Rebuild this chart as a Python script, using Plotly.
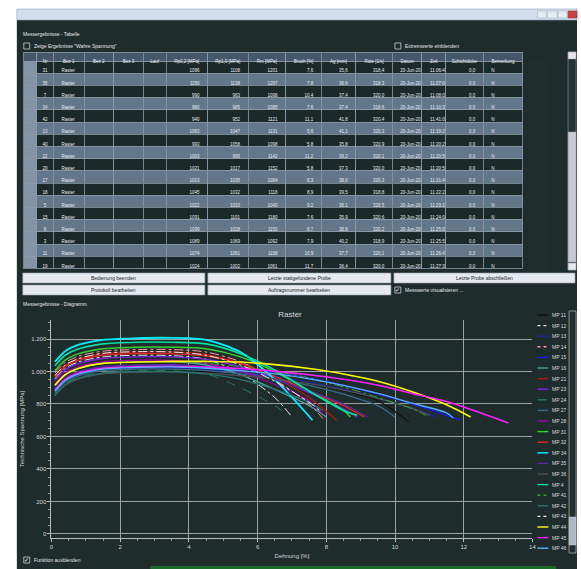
import plotly.graph_objects as go

W, H = 581, 569
FONT = "Liberation Sans, Arial, sans-serif"

# ---------------- chart data ----------------
strain_grid = [0.1, 0.4, 0.8, 1.5, 2.5, 3.5, 4.5, 5.5, 6.5, 7.5, 8.5, 9.5, 10.5, 11.5, 12.5]

series_names = ["MP 11", "MP 12", "MP 13", "MP 14", "MP 15", "MP 16", "MP 21", "MP 23",
                "MP 24", "MP 27", "MP 28", "MP 31", "MP 32", "MP 34", "MP 35", "MP 36",
                "MP 4", "MP 41", "MP 42", "MP 43", "MP 44", "MP 45", "MP 46"]

series_stress = [
    [855, 920, 960, 990, 1000, 1003, 1000, 985, 960, 925, 880, 820],
    [955, 1020, 1060, 1090, 1100, 1098, 1075, 990, 840],
    [875, 940, 980, 1010, 1020, 1022, 1012, 995, 970, 935, 890, 835, 775],
    [990, 1055, 1095, 1125, 1135, 1135, 1120, 1060, 950, 800],
    [885, 950, 990, 1020, 1030, 1035, 1030, 1015, 995, 960, 915, 860, 800, 730],
    [915, 980, 1020, 1050, 1060, 1060, 1040, 980, 890, 790],
    [975, 1040, 1080, 1110, 1120, 1120, 1105, 1050, 960, 840],
    [945, 1010, 1050, 1080, 1090, 1090, 1075, 1030, 960, 870, 770],
    [860, 925, 965, 995, 1005, 1005, 985, 900, 790],
    [870, 935, 975, 1005, 1015, 1015, 1005, 985, 955, 915, 860, 790],
    [925, 990, 1030, 1060, 1070, 1068, 1050, 1000, 920, 820],
    [1005, 1070, 1110, 1140, 1150, 1150, 1140, 1090, 1000, 880, 760],
    [965, 1030, 1070, 1100, 1110, 1108, 1095, 1050, 970, 880, 790],
    [1060, 1125, 1165, 1195, 1205, 1207, 1195, 1120, 950],
    [895, 960, 1000, 1030, 1040, 1042, 1030, 1000, 950, 880, 800],
    [850, 915, 955, 985, 995, 998, 990, 975, 955, 925, 885, 835, 775],
    [1035, 1100, 1140, 1170, 1180, 1180, 1170, 1110, 1010, 880, 760],
    [915, 980, 1020, 1050, 1060, 1060, 1050, 1030, 1000, 960, 905, 840, 770],
    [855, 920, 960, 990, 1000, 1000, 985, 950, 890, 810],
    [975, 1040, 1080, 1112, 1122, 1120, 1100, 1040, 940, 810],
    [915, 980, 1020, 1050, 1058, 1062, 1062, 1058, 1042, 1018, 985, 940, 875, 795],
    [885, 950, 990, 1020, 1030, 1032, 1028, 1018, 1002, 980, 952, 915, 865, 815, 745],
    [880, 945, 985, 1015, 1025, 1028, 1020, 1005, 985, 955, 915, 865, 805, 745],
]
series_end_strain = [10.4, 7.0, 11.2, 7.9, 11.9, 8.0, 8.3, 8.9, 6.7, 10.0, 7.9, 8.7,
                     9.1, 7.6, 9.2, 11.0, 8.9, 10.9, 7.9, 7.8, 12.2, 13.3, 11.7]
series_end_stress = [690, 720, 720, 710, 700, 720, 700, 720, 760, 720, 740, 720,
                     720, 700, 720, 730, 730, 730, 760, 760, 720, 683, 713]

# styles
series_colors = ["#101010", "#e8e8e8", "#1a2a9a", "#ff9a9a", "#1818ff", "#4aa0a0", "#b01818",
                 "#7a28e0", "#2a7a4a", "#3a6a8a", "#a000a0", "#38d038", "#e02828", "#00f0ff",
                 "#5a2a9a", "#505050", "#00e0a0", "#3c9a3c", "#2a7070", "#f0f0f0", "#ffff00",
                 "#ff20ff", "#5ab0ff"]
series_dash = ["solid", "dashdot", "solid", "dashdot", "solid", "solid", "solid", "solid",
               "dash", "solid", "solid", "solid", "solid", "solid", "solid", "solid",
               "solid", "dashdot", "solid", "dashdot", "solid", "solid", "solid"]
series_width = [1.3, 1.0, 1.3, 1.0, 1.3, 1.3, 1.3, 1.3, 1.0, 1.3, 1.3, 1.5, 1.3, 1.8,
                1.3, 1.3, 1.6, 1.0, 1.3, 1.0, 1.6, 1.6, 1.3]

x_ticks = [0, 2, 4, 6, 8, 10, 12, 14]
y_ticks = [0, 200, 400, 600, 800, 1000, 1200]

# ---------------- table data ----------------
table_headers = ["", "Nr", "Bez 1", "Bez 2", "Bez 3", "Lauf", "Rp0,2 [MPa]", "Rp1,0 [MPa]",
                 "Rm [MPa]", "Bruch [%]", "Ag [mm]", "Rate [1/s]", "Datum", "Zeit",
                 "Schichtdicke", "Bemerkung"]
table_nr = ["31", "35", "7", "34", "42", "13", "40", "22", "20", "17", "18", "5", "15", "8", "3", "11", "19"]
table_bez1 = ["Raster"] * 17
table_empty = [""] * 17
table_rp02 = ["1096", "1150", "990", "980", "940", "1063", "993", "1003", "1021", "1013", "1045",
              "1022", "1091", "1039", "1089", "1074", "1024"]
table_rp10 = ["1108", "1138", "963", "985", "952", "1047", "1058", "995", "1017", "1035", "1032",
              "1010", "1101", "1028", "1069", "1061", "1002"]
table_rm = ["1201", "1207", "1098", "1085", "1121", "1131", "1098", "1142", "1152", "1064", "1118",
            "1040", "1180", "1150", "1092", "1108", "1061"]
table_bruch = ["7,6", "7,8", "10,4", "7,6", "11,1", "5,6", "5,8", "11,2", "5,8", "8,3", "8,9",
               "9,2", "7,6", "8,7", "7,9", "10,9", "11,7"]
table_ag = ["35,6", "36,6", "37,4", "37,4", "41,8", "41,1", "35,8", "39,2", "37,3", "38,6", "39,5",
            "36,1", "35,9", "38,8", "40,2", "37,7", "36,4"]
table_rate = ["318,4", "318,3", "320,0", "318,6", "320,4", "320,3", "320,9", "320,1", "320,0",
              "320,3", "318,8", "320,5", "320,6", "320,2", "318,9", "320,1", "320,0"]
table_datum = ["20-Jun-2012"] * 17
table_zeit = ["11:06:41", "11:07:01", "11:08:01", "11:10:31", "11:41:09", "11:19:25", "11:20:25",
              "11:20:50", "11:20:58", "11:21:44", "11:22:21", "11:23:15", "11:24:06", "11:25:02",
              "11:25:58", "11:26:47", "11:27:39"]
table_schicht = ["0,0"] * 17
table_bem = ["N"] * 17

# ---------------- helpers (layout in pixels) ----------------
def fx(v):
    return v / W


def fy(v):
    return 1 - v / H


shapes = []
annotations = []


def rect(x0, y0, x1, y1, fill, line=None, lw=0):
    shapes.append(dict(type="rect", xref="paper", yref="paper", x0=fx(x0), x1=fx(x1),
                       y0=fy(y1), y1=fy(y0), fillcolor=fill,
                       line=dict(color=line or fill, width=lw), layer="below"))


def seg(x0, y0, x1, y1, color, width=1, dash="solid"):
    shapes.append(dict(type="line", xref="paper", yref="paper", x0=fx(x0), x1=fx(x1),
                       y0=fy(y0), y1=fy(y1), line=dict(color=color, width=width, dash=dash),
                       layer="below"))


def text(x, y, t, size=5.5, color="#e4e8ea", anchor="left"):
    annotations.append(dict(xref="paper", yref="paper", x=fx(x), y=fy(y), text=t,
                            showarrow=False, xanchor=anchor, yanchor="middle",
                            font=dict(size=size, color=color, family=FONT)))


def checkbox(x, y, checked=False):
    rect(x, y - 3, x + 6, y + 3, "#1f2c2c", "#c8d0d4", 0.8)
    if checked:
        text(x + 3, y, "✓", size=6, color="#ffffff", anchor="center")


BG = "#1f2c2c"

# window chrome
rect(15, 20, 581, 569, BG)
rect(15, 9, 581, 20, "#d2deec", "#8ea4bc", 0.6)
rect(541, 11, 550, 18, "#e4ecf4", "#9aaabb", 0.5)
rect(551, 11, 561, 18, "#e4ecf4", "#9aaabb", 0.5)
rect(562, 11, 571, 18, "#e4ecf4", "#9aaabb", 0.5)
rect(572, 11, 581, 18, "#c94040", "#a02020", 0.5)

text(19, 34, "Messergebnisse - Tabelle", size=5)
checkbox(22, 46)
text(30, 46, "Zeige Ergebnisse \"Wahre Spannung\"", size=5)
checkbox(397, 46)
text(405, 46, "Extremwerte einblenden", size=5)

# table scrollbar
rect(572, 52, 580, 270, "#243232", "#8a9aa2", 0.6)
rect(572, 52, 580, 59, "#e4e8ec", "#9aa4ac", 0.5)
rect(572, 132, 580, 262, "#c6ccd2", "#9aa4ac", 0.5)
rect(572, 263, 580, 270, "#e4e8ec", "#9aa4ac", 0.5)

# buttons
btn_fill, btn_line, btn_txt = "#e6e9ee", "#9aa4ae", "#202428"
for (x0, y0, x1, y1, label) in [
        (21, 273, 205, 283, "Bedienung beenden"),
        (208, 273, 393, 283, "Letzte stattgefundene Probe"),
        (396, 273, 579, 283, "Letzte Probe abschließen"),
        (21, 285, 205, 295, "Protokoll bearbeiten"),
        (208, 285, 393, 295, "Auftragsnummer bearbeiten")]:
    rect(x0, y0, x1, y1, btn_fill, btn_line, 0.6)
    text((x0 + x1) / 2, (y0 + y1) / 2, label, size=5, color=btn_txt, anchor="center")
checkbox(397, 290, checked=True)
text(405, 290, "Messwerte visualisieren ...", size=5)

text(19, 304, "Messergebnisse - Diagramm", size=5)
checkbox(22, 560, checked=True)
text(30, 560, "Funktion ausblenden", size=5)
rect(150, 566, 560, 569, "#1a6a2c")

# legend (manual, compact) + scrollbar
for i, (nm, col, dsh) in enumerate(zip(series_names, series_colors, series_dash)):
    yy = 315 + i * 10.6
    seg(541, yy, 552, yy, col, 1.4, "dot" if dsh == "dashdot" else dsh)
    text(554, yy, nm, size=5, color="#d8dcdc")
rect(573, 311, 580, 553, "#233030", "#b8c0c6", 0.7)
rect(573, 517, 580, 545, "#aeb8c4", "#c8d0d8", 0.5)

# ---------------- figure ----------------
fig = go.Figure()

for nm, col, dsh, lw, st, ex, ey in zip(series_names, series_colors, series_dash, series_width,
                                         series_stress, series_end_strain, series_end_stress):
    fig.add_trace(go.Scatter(
        x=strain_grid[:len(st)] + [ex], y=st + [ey], mode="lines", name=nm,
        line=dict(color=col, dash=dsh, width=lw, shape="spline", smoothing=0.8),
        showlegend=False, hoverinfo="skip"))

dark_row, light_row = "#1c2929", "#64768a"
row_fill = [dark_row if r % 2 == 0 else light_row for r in range(len(table_nr))]
hdr_fill = "#8594a4"
cell_values = [table_empty, table_nr, table_bez1, table_empty, table_empty, table_empty,
               table_rp02, table_rp10, table_rm, table_bruch, table_ag, table_rate,
               table_datum, table_zeit, table_schicht, table_bem]
fills = [[hdr_fill] * len(table_nr)] + [row_fill] * (len(cell_values) - 1)
aligns = ["center", "center", "left", "left", "left", "left", "right", "right", "right",
          "right", "right", "right", "left", "left", "right", "left"]
header_labels = [h.replace(" ", "\u00a0") for h in table_headers]

fig.add_trace(go.Table(
    domain=dict(x=[22 / W, 527 / W], y=[fy(272), fy(52)]),
    columnwidth=[13, 17, 31, 30, 30, 23, 42, 41, 38, 36, 35, 37, 30, 24, 38, 40],
    header=dict(values=header_labels, fill_color="#46576a",
                line=dict(color="#8b98a8", width=0.8),
                font=dict(size=4.5, color="#e8ecf0", family=FONT), height=9, align="center"),
    cells=dict(values=cell_values, fill_color=fills,
               line=dict(color="#8b98a8", width=0.8),
               font=dict(size=4.5, color="#e8ecf0", family=FONT), height=12.2, align=aligns),
))

grid_c = "#9aa3a3"
fig.update_layout(
    width=W, height=H, margin=dict(l=0, r=0, t=0, b=0),
    paper_bgcolor="#ffffff", plot_bgcolor=BG, separators=",.",
    font=dict(family=FONT, color="#d0d4d4", size=6),
    showlegend=False,
    title=dict(text="Raster", x=290 / W, y=fy(314), xanchor="center", yanchor="middle",
               font=dict(size=8, color="#d4d8d8", family=FONT)),
    xaxis=dict(domain=[50 / W, 536 / W], range=[0, 14], tickvals=x_ticks,
               showgrid=True, gridcolor=grid_c, gridwidth=1, zeroline=False,
               showline=True, linecolor="#b4bcbc", linewidth=1,
               ticks="outside", ticklen=3, tickcolor="#b4bcbc",
               minor=dict(dtick=0.5, ticks="outside", ticklen=2, tickcolor="#8a9494", showgrid=False),
               tickfont=dict(size=6, color="#d0d4d4"),
               title=dict(text="Dehnung [%]", font=dict(size=6, color="#d0d4d4"), standoff=4)),
    yaxis=dict(domain=[fy(538), fy(320)], range=[-25, 1317], tickvals=y_ticks,
               separatethousands=True, tickformat=",d",
               showgrid=True, gridcolor=grid_c, gridwidth=1, zeroline=False,
               showline=True, linecolor="#b4bcbc", linewidth=1,
               ticks="outside", ticklen=3, tickcolor="#b4bcbc",
               minor=dict(dtick=50, ticks="outside", ticklen=2, tickcolor="#8a9494", showgrid=False),
               tickfont=dict(size=6, color="#d0d4d4"),
               title=dict(text="Technische Spannung [MPa]", font=dict(size=6, color="#d0d4d4"),
                          standoff=6)),
    shapes=shapes, annotations=annotations,
)

fig.write_html("out.html", config={"displayModeBar": False},
               post_script="document.body.style.margin='0';document.body.style.overflow='hidden';")
